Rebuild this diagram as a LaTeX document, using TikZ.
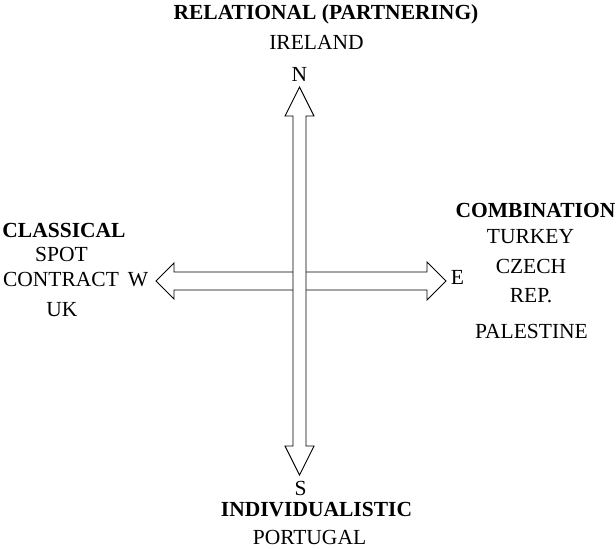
\documentclass[tikz,border=0pt]{standalone}
\usepackage{fontspec}
\setmainfont{Liberation Serif}
\begin{document}
\begin{tikzpicture}[x=1pt,y=-1pt,
  lbl/.style={inner sep=0pt,anchor=base,font=\fontsize{21.5}{24}\selectfont},
  head/.style={lbl,font=\fontsize{21.5}{24}\selectfont\bfseries},
  blockarrow/.style={draw=black,fill=white,line width=0.9pt,line join=miter}]
\useasboundingbox (0,0) rectangle (616,549);
% horizontal block arrow (W <-> E)
\draw[blockarrow] (156,281) -- (174,263) -- (174,272) -- (427,272) -- (427,262)
  -- (446,281) -- (427,300) -- (427,290) -- (174,290) -- (174,299) -- cycle;
% vertical block arrow (N <-> S), drawn on top
\draw[blockarrow] (299.5,87) -- (314,116) -- (306,116) -- (306,446) -- (314,446)
  -- (299.5,475) -- (285,446) -- (293,446) -- (293,116) -- (285,116) -- cycle;
% compass letters
\node[lbl] (n) at (299.5,81.5) {N};
\node[lbl] (s) at (300.5,495) {S};
\node[lbl] (w) at (138,286) {W};
\node[lbl] (e) at (457.5,284) {E};
% north
\node[head] (rel) at (326,19.5) {RELATIONAL (PARTNERING)};
\node[lbl] (ire) at (316.5,49) {IRELAND};
% south
\node[head] (ind) at (316.5,516) {INDIVIDUALISTIC};
\node[lbl] (por) at (309.5,544) {PORTUGAL};
% west
\node[head] (cla) at (64,237) {CLASSICAL};
\node[lbl] (spot) at (61.5,261) {SPOT};
\node[lbl] (con) at (61,286) {CONTRACT};
\node[lbl] (uk) at (62,316) {UK};
% east
\node[head] (com) at (535.5,217) {COMBINATION};
\node[lbl] (tur) at (530.5,243) {TURKEY};
\node[lbl] (cze) at (531,273) {CZECH};
\node[lbl] (rep) at (531,302) {REP.};
\node[lbl] (pal) at (531.5,338) {PALESTINE};
\end{tikzpicture}
\end{document}
